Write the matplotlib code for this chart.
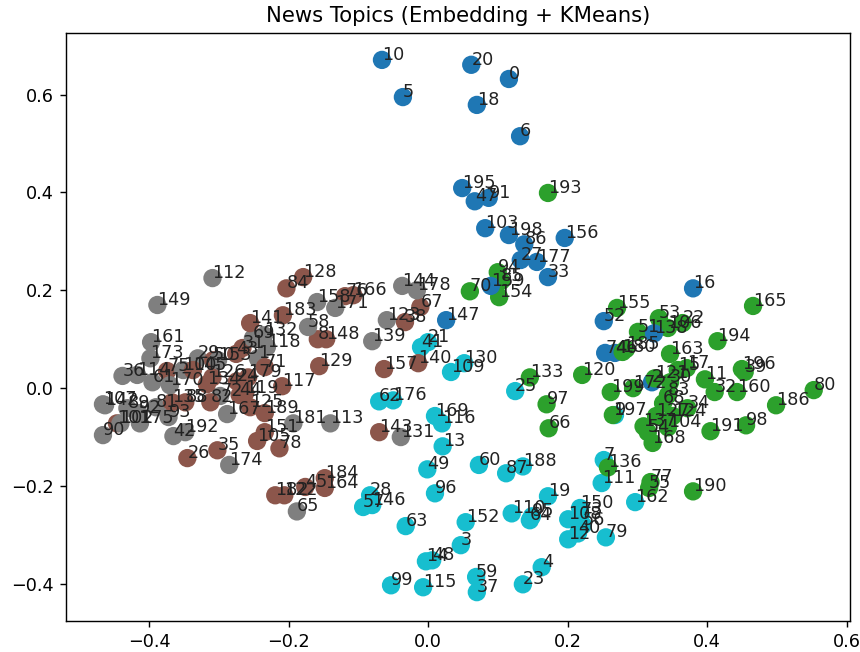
import numpy as np
import matplotlib
matplotlib.use('Agg')
import matplotlib.pyplot as plt

# article ids and 2D embedding positions, one block per KMeans cluster
ids_0 = [0, 2, 5, 6, 10, 16, 18, 20, 27, 33, 46, 47, 52, 74, 86, 91, 103, 138, 147, 156, 159, 177, 195, 198]
x_0 = [.116, .321, -.036, .132, -.066, .380, .070, .062, .133, .172, .268, .067, .252, .254, .138, .087, .082, .324, .026, .196, .090, .156, .049, .116]
y_0 = [.632, .012, .595, .515, .671, .204, .579, .661, .262, .227, .072, .382, .137, .072, .294, .389, .327, .112, .139, .307, .209, .258, .409, .313]

ids_1 = [11, 15, 17, 22, 30, 32, 34, 39, 51, 53, 54, 55, 66, 68, 70, 77, 80, 83, 85, 94, 97, 98, 104, 106, 120, 121, 124, 127, 133, 136, 137, 154, 155, 160, 163, 165, 168, 172, 180, 185, 186, 190, 191, 193, 194, 196, 197, 199]
x_1 = [.397, .358, .371, .365, .347, .411, .372, .454, .301, .331, .315, .317, .173, .337, .060, .319, .553, .344, .105, .100, .170, .456, .344, .344, .221, .325, .351, .327, .146, .258, .309, .102, .271, .443, .347, .466, .322, .294, .279, .284, .499, .380, .405, .172, .415, .450, .265, .262]
y_1 = [.018, .037, .041, .133, .012, -.008, -.041, .033, .115, .143, -.090, -.204, -.082, -.031, .198, -.192, -.004, -.014, .219, .237, -.033, -.076, -.080, .123, .027, .020, -.057, -.057, .022, -.162, -.078, .186, .164, -.008, .070, .168, -.112, .000, .074, .080, -.035, -.211, -.088, .399, .096, .039, -.055, -.008]

ids_2 = [8, 24, 26, 31, 35, 38, 43, 44, 45, 50, 67, 71, 75, 76, 78, 82, 84, 88, 101, 105, 117, 119, 122, 125, 126, 128, 129, 134, 135, 140, 141, 143, 145, 148, 151, 157, 164, 166, 179, 182, 183, 184, 189]
x_2 = [-.158, -.274, -.345, -.266, -.302, -.033, -.275, -.270, -.176, -.308, -.011, -.234, -.374, -.119, -.213, -.312, -.203, -.348, -.446, -.245, -.209, -.262, -.206, -.255, -.309, -.179, -.156, -.317, -.367, -.014, -.255, -.070, -.337, -.146, -.234, -.063, -.148, -.107, -.258, -.219, -.208, -.148, -.234]
y_2 = [.100, .014, -.143, .082, -.127, .135, .070, -.014, -.202, .057, .166, .043, .035, .188, -.123, -.029, .204, -.029, -.072, -.108, .004, -.010, -.219, -.039, .022, .227, .045, .008, -.029, .051, .133, -.090, .037, .100, -.090, .039, -.204, .190, .022, -.219, .149, -.184, -.051]

ids_3 = [1, 29, 36, 42, 58, 61, 65, 69, 72, 81, 89, 90, 92, 93, 100, 102, 107, 112, 113, 114, 118, 123, 131, 132, 139, 142, 144, 149, 153, 158, 161, 167, 170, 171, 173, 174, 175, 178, 181, 192]
x_3 = [-.244, -.330, -.438, -.365, -.172, -.395, -.188, -.251, -.298, -.390, -.431, -.466, -.415, -.372, -.351, -.441, -.466, -.309, -.140, -.417, -.231, -.059, -.039, -.235, -.080, -.463, -.037, -.388, -.301, -.159, -.397, -.288, -.370, -.133, -.398, -.285, -.413, -.016, -.193, -.348]
y_3 = [.061, .061, .025, -.098, .125, .012, -.252, .102, -.016, -.039, -.041, -.096, -.051, -.059, .037, -.072, -.033, .225, -.072, .027, .084, .139, -.100, .108, .096, -.035, .209, .170, .057, .176, .094, -.053, .006, .164, .061, -.157, -.072, .200, -.072, -.090]

ids_4 = [3, 4, 7, 9, 12, 13, 14, 19, 21, 23, 25, 28, 37, 40, 41, 48, 49, 56, 57, 59, 60, 62, 63, 64, 73, 79, 87, 95, 96, 99, 108, 109, 110, 111, 115, 116, 130, 146, 150, 152, 162, 169, 176, 188]
x_4 = [.047, .163, .252, .268, .201, .021, -.003, .172, .000, .136, .125, -.083, .070, .215, -.010, .006, -.001, .222, -.093, .069, .073, -.070, -.032, .146, .219, .255, .112, .149, .010, -.053, .201, .033, .120, .249, -.007, .020, .052, -.080, .218, .054, .297, .010, -.050, .136]
y_4 = [-.321, -.366, -.147, -.055, -.309, -.119, -.354, -.221, .094, -.401, -.006, -.219, -.417, -.297, .084, -.352, -.166, -.280, -.243, -.386, -.157, -.027, -.282, -.270, -.260, -.305, -.174, -.262, -.215, -.403, -.268, .033, -.256, -.194, -.407, -.072, .051, -.239, -.245, -.274, -.233, -.057, -.025, -.160]

blocks = [(ids_0, x_0, y_0), (ids_1, x_1, y_1), (ids_2, x_2, y_2), (ids_3, x_3, y_3), (ids_4, x_4, y_4)]

ids = np.concatenate([b[0] for b in blocks])
xs = np.concatenate([b[1] for b in blocks])
ys = np.concatenate([b[2] for b in blocks])
labels = np.concatenate([[k] * len(b[0]) for k, b in enumerate(blocks)])

# original draws points in article order
order = np.argsort(ids)
ids, xs, ys, labels = ids[order], xs[order], ys[order], labels[order]

# reference looks like a default figure scaled up, so use a higher dpi
dpi = 127
fig = plt.figure(figsize=(860 / dpi, 652 / dpi), dpi=dpi)
ax = fig.add_axes([66 / 860, 1 - 621 / 652, (850 - 66) / 860, (621 - 33) / 652])
ax.scatter(xs, ys, c=labels, cmap='tab10', s=88)
for i, px, py in zip(ids, xs, ys):
    ax.annotate(str(i), (px, py), fontsize=10, color='#222222')

ax.set_xlim(-0.519, 0.605)
ax.set_ylim(-0.476, 0.726)
ax.set_xticks([-0.4, -0.2, 0.0, 0.2, 0.4, 0.6])
ax.set_yticks([-0.4, -0.2, 0.0, 0.2, 0.4, 0.6])
ax.set_title('News Topics (Embedding + KMeans)')

fig.savefig('out.png', dpi=dpi)
